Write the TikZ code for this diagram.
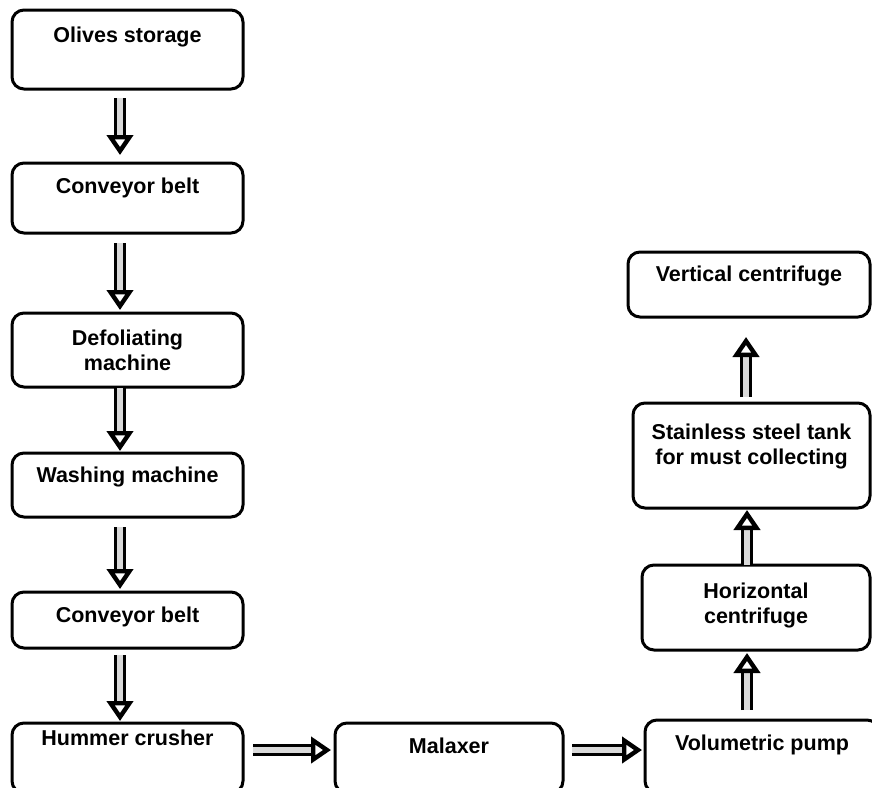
\documentclass[tikz,border=0pt]{standalone}
\usepackage{fontspec}
\setmainfont{Liberation Sans}
\usepackage{tikz}
\usetikzlibrary{arrows.meta}
\usetikzlibrary{calc}

\tikzset{
    stage/.style={draw, line width=1.5pt, rounded corners=6pt, anchor=north,
        align=center, inner xsep=0pt, inner ysep=0pt, outer sep=0pt,
        font=\fontsize{10.75}{12.5}\selectfont\bfseries},
    flow/.style={line width=1.6pt, double=gray!30, double distance=3pt,
        -{Triangle[length=10pt, width=13pt, fill=white, line width=2.2pt]}}
}

\begin{document}
\begin{tikzpicture}[x=0.5pt, y=-0.5pt]
    \useasboundingbox (0,0) rectangle (872,787);
    \clip (0,0) rectangle (872,787);
    % left column
    \node[stage, minimum width=115.5pt, text height=16pt, text depth=23.5pt] (storage) at (127.5,10) {Olives storage};
    \node[stage, minimum width=115.5pt, text height=15pt, text depth=20pt] (belt) at (127.5,163) {Conveyor belt};
    \node[stage, minimum width=115.5pt, text height=28.5pt, text depth=8.5pt] (defol) at (127.5,313) {Defoliating\\machine};
    \node[stage, minimum width=115.5pt, text height=14.5pt, text depth=17.5pt] (wash) at (127.5,453) {Washing machine};
    \node[stage, minimum width=115.5pt, text height=15pt, text depth=13pt] (belttwo) at (127.5,592) {Conveyor belt};
    \node[stage, minimum width=115.5pt, text height=11pt, text depth=24pt] (crusher) at (127.5,723) {Hummer crusher};
    % bottom row and right column
    \node[stage, minimum width=114pt, text height=15pt, text depth=20pt] (malaxer) at (449,723) {Malaxer};
    \node[stage, minimum width=117pt, text height=15pt, text depth=21.5pt] (pump) at (762,720) {Volumetric pump};
    \node[stage, minimum width=114pt, text height=29pt, text depth=13.5pt] (horiz) at (756,565) {Horizontal\\centrifuge};
    \node[stage, minimum width=118.5pt, text height=30.5pt, text depth=22pt] (tank) at (751.5,403) {Stainless steel tank\\for must collecting};
    \node[stage, minimum width=121pt, text height=14.5pt, text depth=18pt] (vert) at (749,252) {Vertical centrifuge};
    % arrows
    \draw[flow, shorten <=4.5pt, shorten >=4pt] ([xshift=-3.75pt]storage.south) -- ([xshift=-3.75pt]belt.north);
    \draw[flow, shorten <=5pt, shorten >=1.5pt] ([xshift=-3.75pt]belt.south) -- ([xshift=-3.75pt]defol.north);
    \draw[flow, shorten <=0.5pt, shorten >=1pt] ([xshift=-3.75pt]defol.south) -- ([xshift=-3.75pt]wash.north);
    \draw[flow, shorten <=5pt, shorten >=1.5pt] ([xshift=-3.75pt]wash.south) -- ([xshift=-3.75pt]belttwo.north);
    \draw[flow, shorten <=3.5pt, shorten >=1pt] ([xshift=-3.75pt]belttwo.south) -- ([xshift=-3.75pt]crusher.north);
    \draw[flow, shorten <=5pt, shorten >=2pt] ([yshift=4pt]crusher.east) -- ([yshift=4pt]malaxer.west);
    \draw[flow, shorten <=4.5pt, shorten >=1.5pt] ([yshift=4pt]malaxer.east) -- ([yshift=4pt]malaxer.east -| pump.west);
    \draw[flow, shorten <=5pt, shorten >=1.5pt] ([xshift=-7.5pt]pump.north) -- ([xshift=-7.5pt]pump.north |- horiz.south);
    \draw[flow, shorten <=0pt, shorten >=1pt] ([xshift=-7.5pt]pump.north |- horiz.north) -- ([xshift=-7.5pt]pump.north |- tank.south);
    \draw[flow, shorten <=3pt, shorten >=10pt] ([xshift=-8pt]pump.north |- tank.north) -- ([xshift=-8pt]pump.north |- vert.south);
\end{tikzpicture}
\end{document}
